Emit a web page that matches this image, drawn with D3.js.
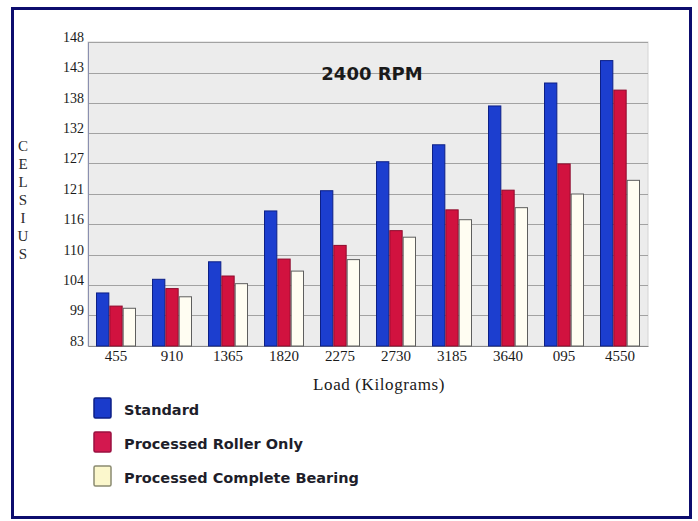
<!DOCTYPE html>
<html>
<head>
<meta charset="utf-8">
<script src="https://cdn.jsdelivr.net/npm/d3@7"></script>
<style>
  body { margin: 0; background: #ffffff; }
  svg { display: block; }
</style>
</head>
<body>
<svg id="chart" width="698" height="521"></svg>
<script>
// Bearing temperature by load at 2400 RPM (°C)
const categories = ["455", "910", "1365", "1820", "2275", "2730", "3185", "3640", "095", "4550"];
const standard = [103.0, 105.5, 108.7, 118.0, 121.7, 127.0, 130.1, 137.2, 141.4, 145.5];
const rollerOnly = [100.6, 103.8, 106.1, 109.2, 111.7, 114.4, 118.2, 121.8, 126.6, 140.1];
const completeBearing = [100.2, 102.3, 104.7, 107.0, 109.1, 113.2, 116.4, 118.6, 121.1, 123.6];
const seriesNames = ["Standard", "Processed Roller Only", "Processed Complete Bearing"];

// Axis ticks: positions in °C and the labels printed beside them
const tickValues = [93.3, 98.9, 104.4, 110.0, 115.6, 121.1, 126.7, 132.2, 137.8, 143.3, 148.9];
const tickLabels = ["83", "99", "104", "110", "116", "121", "127", "132", "138", "143", "148"];

const seriesValues = [standard, rollerOnly, completeBearing];
const fills = ["#1c3ecf", "#d1123f", "#fffdf2"];
const strokes = ["#0c1f86", "#8e0a2c", "#5e5e5e"];
const legendFills = ["#1a3bcb", "#d3184f", "#fbf7cc"];
const legendStrokes = ["#0c1f86", "#9a1040", "#8a8a70"];

const svg = d3.select("#chart");

// outer frame
svg.append("rect")
  .attr("x", 12.5).attr("y", 8.5).attr("width", 678).attr("height", 509)
  .attr("fill", "#ffffff").attr("stroke", "#0d0d6e").attr("stroke-width", 3);

const plot = { left: 88, right: 648, top: 42, bottom: 346 };

const x0 = d3.scaleBand().domain(categories).range([plot.left, plot.right]).paddingInner(0).paddingOuter(0);
const x1 = d3.scaleBand().domain(seriesNames).range([8, x0.bandwidth() - 8]).padding(0);
const y = d3.scaleLinear().domain([tickValues[0], tickValues[tickValues.length - 1]]).range([plot.bottom, plot.top]);

// plot background
svg.append("rect")
  .attr("x", plot.left).attr("y", plot.top)
  .attr("width", plot.right - plot.left).attr("height", plot.bottom - plot.top)
  .attr("fill", "#ececec").attr("stroke", "#d4d4d4");

// gridlines
svg.append("g")
  .selectAll("line")
  .data(tickValues.slice(1))
  .join("line")
  .attr("x1", plot.left).attr("x2", plot.right)
  .attr("y1", d => Math.round(y(d)) + 0.5).attr("y2", d => Math.round(y(d)) + 0.5)
  .attr("stroke", "#a2a2a2").attr("stroke-width", 1);

// y axis
const yAxis = d3.axisLeft(y)
  .tickValues(tickValues)
  .tickFormat((d, i) => tickLabels[i])
  .tickSize(0)
  .tickPadding(4);
const gy = svg.append("g").attr("transform", `translate(${plot.left},0)`).call(yAxis);
gy.select(".domain").attr("stroke", "#8a8fb0");
gy.selectAll(".tick text")
  .attr("dy", "-0.05em")
  .attr("font-family", "Liberation Serif, serif")
  .attr("font-size", 14).attr("fill", "#1a1a1a");

// x axis
const xAxis = d3.axisBottom(x0).tickSize(0).tickPadding(4);
const gx = svg.append("g").attr("transform", `translate(0,${plot.bottom})`).call(xAxis);
gx.select(".domain").attr("stroke", "#8a8a8a");
gx.selectAll(".tick text")
  .attr("font-family", "Liberation Serif, serif")
  .attr("font-size", 15).attr("fill", "#1a1a1a");

// bars
const groups = svg.append("g")
  .selectAll("g")
  .data(categories)
  .join("g")
  .attr("transform", d => `translate(${x0(d)},0)`);

groups.selectAll("rect")
  .data((c, ci) => seriesNames.map((s, si) => ({ s, si, v: seriesValues[si][ci] })))
  .join("rect")
  .attr("x", d => x1(d.s) + 0.5)
  .attr("y", d => y(d.v))
  .attr("width", x1.bandwidth() - 1)
  .attr("height", d => plot.bottom - y(d.v))
  .attr("fill", d => fills[d.si])
  .attr("stroke", d => strokes[d.si])
  .attr("stroke-width", 1);

// title
svg.append("text")
  .attr("x", 372).attr("y", 80)
  .attr("text-anchor", "middle")
  .attr("font-family", "DejaVu Sans, sans-serif")
  .attr("font-weight", "bold")
  .attr("font-size", 18)
  .attr("fill", "#1a1a1a")
  .text("2400 RPM");

// y axis title, stacked letters
svg.append("g")
  .selectAll("text")
  .data("CELSIUS".split(""))
  .join("text")
  .attr("x", 23).attr("y", (d, i) => 151 + i * 18)
  .attr("text-anchor", "middle")
  .attr("font-family", "Liberation Serif, serif")
  .attr("font-size", 15)
  .attr("fill", "#2a2a2a")
  .text(d => d);

// x axis title
svg.append("text")
  .attr("x", 379).attr("y", 390)
  .attr("text-anchor", "middle")
  .attr("font-family", "Liberation Serif, serif")
  .attr("font-size", 17)
  .attr("letter-spacing", 0.6)
  .attr("fill", "#1a1a1a")
  .text("Load (Kilograms)");

// legend
const legend = svg.append("g")
  .selectAll("g")
  .data(seriesNames)
  .join("g")
  .attr("transform", (d, i) => `translate(94,${398 + i * 34})`);

legend.append("rect")
  .attr("width", 17).attr("height", 20)
  .attr("rx", 1.5)
  .attr("fill", (d, i) => legendFills[i])
  .attr("stroke", (d, i) => legendStrokes[i])
  .attr("stroke-width", 1.5);

legend.append("text")
  .attr("x", 30).attr("y", 17)
  .attr("font-family", "DejaVu Sans, sans-serif")
  .attr("font-weight", "bold")
  .attr("font-size", 14.5)
  .attr("fill", "#1e1e2a")
  .text(d => d);
</script>
</body>
</html>
